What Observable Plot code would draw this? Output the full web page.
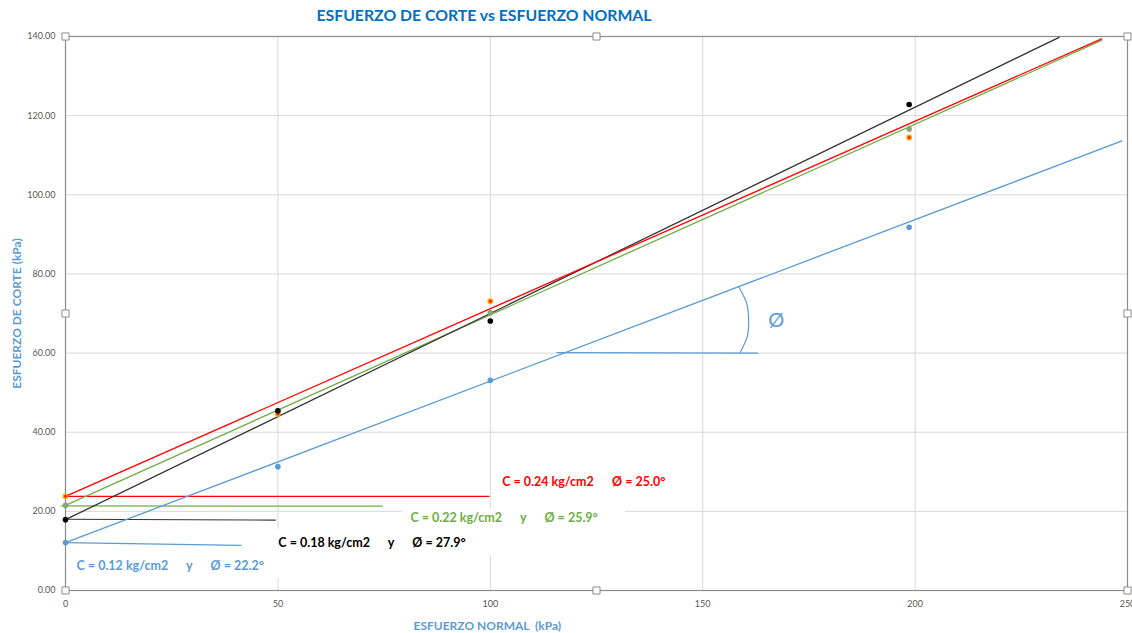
<!DOCTYPE html>
<html><head><meta charset="utf-8">
<script src="https://cdn.jsdelivr.net/npm/d3@7"></script>
<script src="https://cdn.jsdelivr.net/npm/@observablehq/plot@0.6"></script>
<style>
body{margin:0;background:#fff;}
#titlewrap{height:28px;overflow:visible;}
#title{position:relative;top:5px;width:968px;height:24px;line-height:24px;text-align:center;font:bold 15.8px Lato, sans-serif;color:#0070C0;}
#chart svg{display:block;}
</style></head><body>
<div id="titlewrap"><div id="title">ESFUERZO DE CORTE vs ESFUERZO NORMAL</div></div>
<div id="chart"></div>
<script>
// ---- data ----
const normal = [0, 50, 100, 198.6];            // esfuerzo normal (kPa)
const tauBlack = [17.9, 45.4, 68.1, 122.8];    // esfuerzo de corte (kPa)
const tauRed   = [23.8, 44.6, 73.1, 114.5];
const tauGreen = [21.5, 45.0, 70.2, 116.6];
const tauBlue  = [12.1, 31.3, 53.1, 91.8];

// trend lines (endpoints as drawn)
const trendBlackX = [0, 233.9], trendBlackY = [17.9, 139.8];
const trendRedX   = [0, 243.9], trendRedY   = [23.8, 139.4];
const trendGreenX = [0, 243.9], trendGreenY = [21.5, 139.0];
const trendBlueX  = [0, 248.7], trendBlueY  = [12.1, 113.6];

// cohesion marker lines
const cRedX = [0, 99.7],   cRedY = [23.8, 23.8];
const cGreenX = [-1, 74.6], cGreenY = [21.4, 21.3];
const cBlackX = [0, 49.4], cBlackY = [18.0, 17.8];
const cBlueX = [0, 41.3],  cBlueY = [12.1, 11.4];

// angle annotation
const angleLineX = [115.7, 163.0], angleLineY = [60.1, 60.0];
const arcX = [158.8, 160.5, 160.8, 160.4, 158.5], arcY = [60.1, 64.2, 68.2, 72.4, 76.7];

const sp = n => "\u00a0".repeat(n);
const labels = [
  {text: "C = 0.24 kg/cm2" + sp(6) + "Ø = 25.0°", x: 102.8, y: 27.3, color: "#FF0000"},
  {text: "C = 0.22 kg/cm2" + sp(6) + "y" + sp(6) + "Ø = 25.9°", x: 81.2, y: 18.2, color: "#70AD47"},
  {text: "C = 0.18 kg/cm2" + sp(6) + "y" + sp(6) + "Ø = 27.9°", x: 50.1, y: 11.9, color: "#000000"},
  {text: "C = 0.12 kg/cm2" + sp(6) + "y" + sp(6) + "Ø = 22.2°", x: 2.6, y: 6.1, color: "#5B9BD5"}
];
const boxes = [
  {x1: 79.3, x2: 131.8, y1: 15.3, y2: 20.6},
  {x1: 48.3, x2: 101.5, y1: 8.6, y2: 15.5},
  {x1: 0.8, x2: 51.8, y1: 3.0, y2: 8.6}
];
const handlesX = [0, 125, 250, 0, 250, 0, 125, 250];
const handlesY = [140, 140, 140, 70, 70, 0, 0, 0];

const xTicks = [0, 50, 100, 150, 200, 250];
const yTicks = [0, 20, 40, 60, 80, 100, 120, 140];

const pts = (xs, ys) => xs.map((x, i) => ({x, y: ys[i]}));
const line = (xs, ys, stroke, w = 1.3) => Plot.line(pts(xs, ys), {x: "x", y: "y", stroke, strokeWidth: w});
const font = "Lato, 'Liberation Sans', sans-serif";

const chart = Plot.plot({
  width: 1132, height: 605,
  marginTop: 8, marginLeft: 65, marginRight: 5, marginBottom: 43,
  style: {fontFamily: font, fontSize: "9px", color: "#595959", background: "#fff"},
  x: {domain: [0, 250]},
  y: {domain: [0, 140]},
  marks: [
    Plot.gridX(xTicks, {stroke: "#D9D9D9", strokeOpacity: 1}),
    Plot.gridY(yTicks, {stroke: "#D9D9D9", strokeOpacity: 1}),
    Plot.rect(boxes, {x1: "x1", x2: "x2", y1: "y1", y2: "y2", fill: "white"}),
    Plot.frame({stroke: "#8c8c8c", strokeWidth: 1.2}),
    Plot.axisX(xTicks, {tickSize: 0, tickPadding: 10, tickFormat: d => String(d), label: null, fill: "#595959"}),
    Plot.axisY(yTicks, {tickSize: 0, tickPadding: 10, tickFormat: d3.format(".2f"), label: null, fill: "#595959"}),
    line(cRedX, cRedY, "#FF0000", 1.2),
    line(cGreenX, cGreenY, "#70AD47", 1.2),
    line(cBlackX, cBlackY, "#333333", 1.2),
    line(cBlueX, cBlueY, "#5B9BD5", 1.2),
    line(angleLineX, angleLineY, "#5B9BD5", 1.2),
    Plot.line(pts(arcX, arcY), {x: "x", y: "y", stroke: "#5B9BD5", strokeWidth: 1.2, curve: "natural"}),
    line(trendBlueX, trendBlueY, "#5B9BD5"),
    line(trendGreenX, trendGreenY, "#70AD47"),
    line(trendBlackX, trendBlackY, "#333333"),
    line(trendRedX, trendRedY, "#FF0000"),
    Plot.dot(pts(normal, tauBlue), {x: "x", y: "y", r: 2.8, fill: "#5B9BD5"}),
    Plot.dot(pts(normal, tauGreen), {x: "x", y: "y", r: 2.8, fill: "#86A874"}),
    Plot.dot(pts(normal, tauRed), {x: "x", y: "y", r: 2.2, fill: "#FF2000", stroke: "#FFA500", strokeWidth: 1.4}),
    Plot.dot(pts(normal, tauBlack), {x: "x", y: "y", r: 2.8, fill: "#000"}),
    Plot.text(labels, {x: "x", y: "y", text: "text", fill: "color", textAnchor: "start", fontSize: 12.5, fontWeight: "bold"}),
    Plot.text(["Ø"], {x: 167.3, y: 68.2, fontSize: 20, fill: "#5B9BD5"}),
    Plot.text(["ESFUERZO DE CORTE (kPa)"], {frameAnchor: "left", textAnchor: "middle", dx: -48, rotate: -90, fontSize: 12, fontWeight: "bold", fill: "#5B9BD5"}),
    Plot.text(["ESFUERZO NORMAL\u00a0\u00a0(kPa)"], {x: 99.3, frameAnchor: "bottom", dy: 39, fontSize: 12, fontWeight: "bold", fill: "#5B9BD5"}),
    Plot.dot(pts(handlesX, handlesY), {x: "x", y: "y", symbol: "square", r: 4, fill: "white", stroke: "#8c8c8c", strokeWidth: 1})
  ]
});
document.getElementById("chart").appendChild(chart);
</script>
</body></html>
